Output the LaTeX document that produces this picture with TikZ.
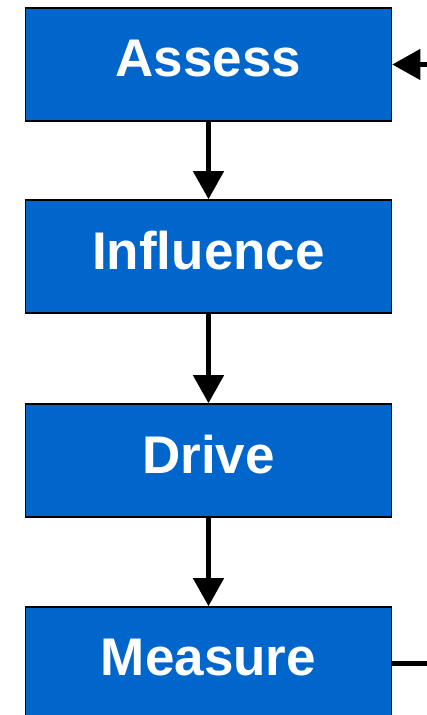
\documentclass[tikz,border=0pt]{standalone}
\usepackage{fontspec}
\setmainfont{Liberation Sans}
\usetikzlibrary{arrows.meta}
\definecolor{stepblue}{HTML}{0066CC}
\begin{document}
\begin{tikzpicture}[x=1pt,y=-1pt,
  stagebox/.style={draw=black,line width=1.6pt,fill=stepblue,minimum width=366pt,minimum height=113pt,
    inner sep=0pt,text=white,font=\fontsize{53}{60}\selectfont\bfseries},
  label/.style={text=white,font=\fontsize{53}{60}\selectfont\bfseries,inner sep=0pt,yshift=6pt},
  flow/.style={line width=4.5pt,-{Triangle[width=30pt,length=28pt]}},
  link/.style={line width=4.5pt}]
\useasboundingbox (0,0) rectangle (427,715);
% stage boxes with their titles set slightly above the centre
\node[stagebox] (assess) at (208.5,64.5) {};
\node[label] (assesst) at (assess.center) {Assess};
\node[stagebox] (influence) at (208.5,256.5) {};
\node[label] (influencet) at (influence.center) {Influence};
\node[stagebox] (drive) at (208.5,460.5) {};
\node[label] (drivet) at (drive.center) {Drive};
\node[stagebox] (measure) at (208.5,663.5) {};
\node[label] (measuret) at (measure.center) {Measure};
% feedback loop ends, running off the right edge
\coordinate (backin) at (440,64.5);
\coordinate (backout) at (440,663.5);
\draw[flow] (assess) -- (influence);
\draw[flow] (influence) -- (drive);
\draw[flow] (drive) -- (measure);
\draw[flow] (backin) -- (assess);
\draw[link] (measure) -- (backout);
\end{tikzpicture}
\end{document}
